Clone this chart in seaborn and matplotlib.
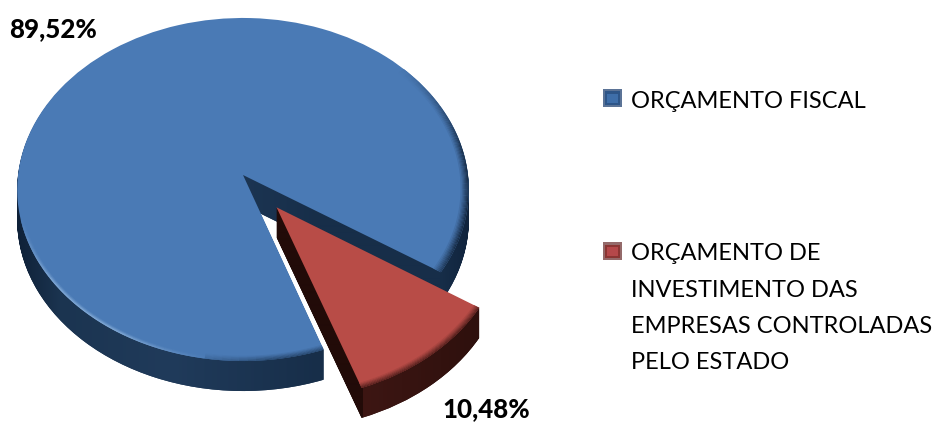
import numpy as np
import matplotlib
matplotlib.use("Agg")
import matplotlib.pyplot as plt
import seaborn as sns
from matplotlib.colors import to_rgb
from matplotlib.patches import Rectangle, Wedge
from matplotlib.path import Path
from matplotlib.transforms import Transform

categories = ["ORÇAMENTO FISCAL",
              "ORÇAMENTO DE\nINVESTIMENTO DAS\nEMPRESAS CONTROLADAS\nPELO ESTADO"]
values = [89.52, 10.48]
value_labels = ["89,52%", "10,48%"]

FACE = sns.color_palette(["#4a7ab5", "#b84c47"])
SIDE = sns.color_palette(["#1b3553", "#2b0f0c"])
DEPTH = 30
LINE_PITCH_PT = 26.6


class Perspective(Transform):
    input_dims = output_dims = 2

    def __init__(self, drop=0):
        super().__init__()
        self.drop = drop

    def transform_non_affine(self, values):
        values = np.asarray(values, float)
        w = 1 + 0.0845 * values[:, 1]
        return np.column_stack([243 + 225 * values[:, 0] / w,
                                175 - 170.3 * values[:, 1] / w + self.drop])


def mix(a, b, t):
    a, b = np.array(to_rgb(a)), np.array(to_rgb(b))
    return tuple(a + (b - a) * t)


def bump(x, c, w):
    return max(0.0, 1 - abs(x - c) / w)


def blue_bevel(theta):
    th = theta % 360
    signed = th - 360 if th > 180 else th
    hi = bump(th, 228, 34)
    if hi > 0:
        return "#a9cbee", min(1, hi * 1.5) * 0.75, 3.0
    lo = bump(th, 285, 30)
    if lo > 0:
        return "#1b3553", min(1, lo * 1.4) * 0.75, 5.0
    rt = bump(signed, -8, 50)
    if rt > 0:
        return "#0f2036", min(1, rt * 1.5) * 0.85, 7.0
    return "#4a7ab5", 0.0, 1.0


def red_bevel(theta):
    return "#3a1512", 0.8, 5.0


def add_bevel(ax, wedge, face, bevel):
    step = 2.0
    th = np.arange(wedge.theta1, wedge.theta2, step)
    n = 7
    for k in range(n):
        t = 1 - k / n
        for a in th:
            target, strength, px = bevel(a + step / 2)
            if strength <= 0:
                continue
            bw = px / 200
            w = Wedge(wedge.center, 1 - k * bw / n, a, min(a + step, wedge.theta2),
                      width=bw / n * 1.3, fc=mix(face, target, strength * t),
                      ec="none", lw=0, zorder=wedge.get_zorder() + 0.1 + k * 0.001)
            w.set_transform(Perspective() + ax.transData)
            ax.add_patch(w)


def gradient(ax, paths, stops, zorder):
    xs = np.array([s[0] for s in stops], float)
    cols = np.array([to_rgb(s[1]) for s in stops])
    grid = np.arange(0, 933)
    arr = np.stack([np.interp(grid, xs, cols[:, i]) for i in range(3)], axis=-1)[None, :, :]
    im = ax.imshow(arr, extent=[0, 933, 422, 0], aspect="auto", zorder=zorder,
                   interpolation="bilinear")
    im.set_clip_path(Path.make_compound_path(*paths), ax.transData)


class Swatch:
    def __init__(self, extra_lines, outer, inner, centre):
        self.shift = extra_lines * LINE_PITCH_PT / 2
        self.colors = outer, inner, centre

    def legend_artist(self, legend, orig, fontsize, box):
        w, h = box.width, box.height
        x, y = box.xdescent, box.ydescent + self.shift
        made = None
        for i, c in enumerate(self.colors):
            m = i * w * 0.11
            r = Rectangle((x + m, y + m), w - 2 * m, h - 2 * m, fc=c, ec="none",
                          transform=box.get_transform())
            box.add_artist(r)
            made = made or r
        return made


sns.set_theme(style="white")
plt.rcParams["font.family"] = ["Lato", "DejaVu Sans"]

fig = plt.figure(figsize=(9.33, 4.22), dpi=100, facecolor="white")
ax = fig.add_axes([0, 0, 1, 1])

stops = [
    [(17, "#0f2138"), (60, "#1b3450"), (170, "#203b5b"), (320, "#172e49"),
     (440, "#172e49"), (470, "#10233c")],
    [(278, "#220b08"), (362, "#220b08"), (363, "#3d1613"), (479, "#2e100d")],
]
tops = []
for idx, color in enumerate(FACE):
    paths = []
    for d in range(DEPTH, 0, -1):
        wedges, _ = ax.pie(values, startangle=-33, counterclock=True, explode=[0, 0.2375],
                           colors=[SIDE[0], SIDE[1]], wedgeprops=dict(lw=0))
        for j, w in enumerate(wedges):
            if j != idx:
                w.remove()
                continue
            w.set_zorder(1 + idx * 10)
            w.set_transform(Perspective(d) + ax.transData)
            paths.append(Perspective(d).transform_path(w.get_path()))
    gradient(ax, paths, stops[idx], 2 + idx * 10)
    wedges, _ = ax.pie(values, startangle=-33, counterclock=True, explode=[0, 0.2375],
                       colors=list(FACE), wedgeprops=dict(lw=0))
    for j, w in enumerate(wedges):
        if j != idx:
            w.remove()
            continue
        w.set_zorder(3 + idx * 10)
        w.set_transform(Perspective() + ax.transData)
        add_bevel(ax, w, FACE[idx], blue_bevel if idx == 0 else red_bevel)
        tops.append(w)

ax.set_aspect("auto")
ax.set_xlim(0, 933)
ax.set_ylim(422, 0)
ax.set_axis_off()

ax.text(53, 29, value_labels[0], ha="center", va="center", fontsize=18.6,
        fontweight=900, color="black")
ax.text(486, 409, value_labels[1], ha="center", va="center", fontsize=18.6,
        fontweight=900, color="black")

leg = ax.legend(tops, categories, loc="upper left", bbox_to_anchor=(603, 91),
                bbox_transform=ax.transData, frameon=False, fontsize=17,
                handlelength=0.8, handleheight=0.8, handletextpad=0.38,
                labelspacing=5.55, borderpad=0, borderaxespad=0, labelcolor="black",
                handler_map={tops[0]: Swatch(0, "#5b7396", "#2d5588", "#3e6ea9"),
                             tops[1]: Swatch(3, "#946a6a", "#8b3533", "#b5484a")})
for t in leg.get_texts():
    t.set_linespacing(1.9)
leg.set_zorder(50)

fig.savefig("out.png", dpi=100, facecolor="white")
